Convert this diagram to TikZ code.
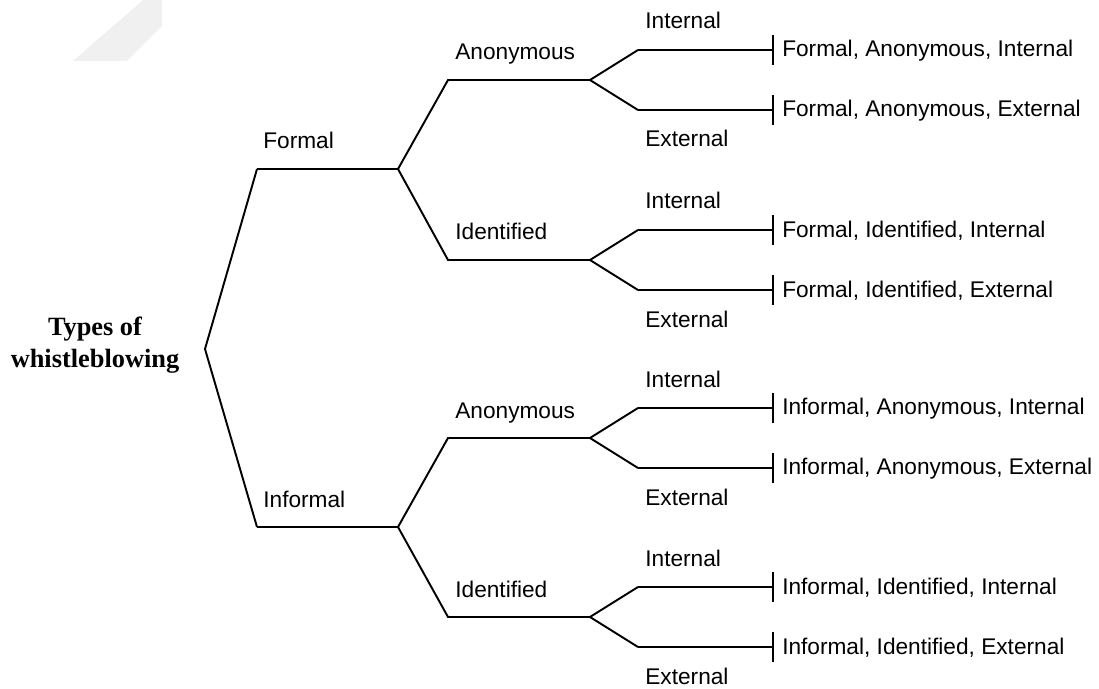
\documentclass[tikz,border=0pt]{standalone}
\usepackage{fontspec}
\setmainfont{Liberation Sans}
\newfontfamily\titlefont{Liberation Serif}
\usetikzlibrary{arrows.meta, positioning, calc}
\tikzstyle{branch} = [line width=1.1pt, line join=miter]
\tikzstyle{leafline} = [line width=1.1pt, -{Bar[width=17pt, line width=1.1pt]}]
\tikzstyle{lbl} = [anchor=base west, inner sep=0pt, font=\fontsize{12.9}{15}\selectfont]
\tikzstyle{leaf} = [anchor=west, inner sep=4.5pt, font=\fontsize{12.9}{15}\selectfont]

\begin{document}
\begin{tikzpicture}[x=0.02cm, y=-0.02cm]
    \useasboundingbox (0,0) rectangle (1099,689);

    % faint mark at top left
    \fill[black!6] (73,61) -- (127,61) -- (162,26) -- (162,0) -- (143,0) -- cycle;

    % root
    \node (root) [align=center, font=\titlefont\bfseries\fontsize{15}{18.5}\selectfont] at (95,345) {Types of\\whistleblowing};
    \coordinate (fork) at (205,349);

    % first level
    \coordinate (formal) at (257,169);
    \coordinate (formalend) at (398,169);
    \coordinate (informal) at (257,527);
    \coordinate (informalend) at (398,527);
    \draw [branch] (formal) -- (fork) -- (informal);
    \draw [branch] (formal) -- (formalend);
    \draw [branch] (informal) -- (informalend);
    \node (lformal) [lbl] at ($(formal)+(6,-20)$) {Formal};
    \node (linformal) [lbl] at ($(informal)+(6,-20)$) {Informal};

    % second and third level
    \foreach \n/\p/\y/\a/\b in {fa/formalend/80/Formal/Anonymous,
                                fi/formalend/260/Formal/Identified,
                                ia/informalend/438/Informal/Anonymous,
                                ii/informalend/617/Informal/Identified} {
        \coordinate (\n) at (448,\y);
        \coordinate (\n end) at (590,\y);
        \draw [branch] (\p) -- (\n) -- (\n end);
        \node (l\n) [lbl] at ($(\n)+(7,-20)$) {\b};

        \coordinate (\n int) at (638,\y-30);
        \coordinate (\n ext) at (638,\y+30);
        \draw [branch] (\n int) -- (\n end) -- (\n ext);
        \node (l\n int) [lbl] at ($(\n int)+(7,-21)$) {Internal};
        \node (l\n ext) [lbl] at ($(\n ext)+(7,37)$) {External};

        \node (\n leafint) [leaf] at (774,\y-29) {\a, \b, Internal};
        \node (\n leafext) [leaf] at (774,\y+31) {\a, \b, External};
        \draw [leafline] (\n int) -- (\n int -| \n leafint.west);
        \draw [leafline] (\n ext) -- (\n ext -| \n leafext.west);
    }

\end{tikzpicture}
\end{document}
